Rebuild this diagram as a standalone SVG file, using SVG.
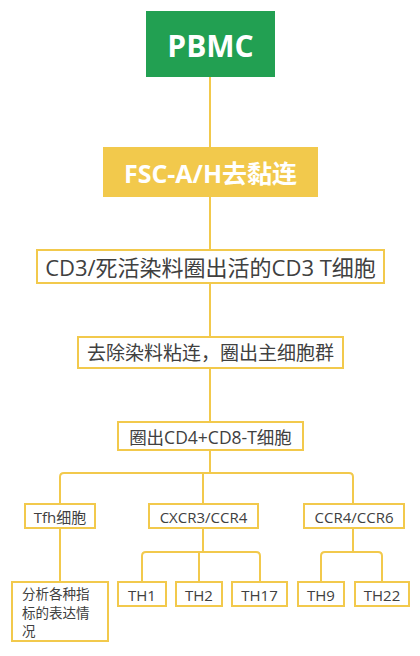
<svg xmlns="http://www.w3.org/2000/svg" width="420" height="656" viewBox="0 0 420 656">
<style>
.box{fill:#ffffff;stroke:#f2c94c;stroke-width:2}
.t{font-family:"Open Sans","Noto Sans CJK SC",sans-serif;fill:#404040;text-anchor:middle;dominant-baseline:central}
.l{font-family:"Open Sans","Noto Sans CJK SC",sans-serif;fill:#404040;text-anchor:start;dominant-baseline:central}
.w{font-family:"Open Sans","Noto Sans CJK SC",sans-serif;fill:#ffffff;font-weight:bold;text-anchor:middle;dominant-baseline:central}
.c{fill:none;stroke:#f2c94c;stroke-width:2}
</style>
<rect width="420" height="656" fill="#ffffff"/>
<g id="connectors">
<path class="c" d="M210 77V147M210 197V250M210 283V337M210 368V422"/>
<path class="c" d="M210 450V473M60 504V477Q60 473 64 473H349Q353 473 353 477V504M203 473V504"/>
<path class="c" d="M60 528V582"/>
<path class="c" d="M203 528V552M142 582V556Q142 552 146 552H256Q260 552 260 556V582M199 552V582"/>
<path class="c" d="M353 528V552M321 582V556Q321 552 325 552H378Q382 552 382 556V582"/>
</g>
<g id="pbmc"><rect x="146" y="11" width="129" height="66" fill="#22a052"/><text class="w" x="210.5" y="45" font-size="30">PBMC</text></g>
<g id="fsc"><rect x="103" y="147" width="215" height="50" fill="#f2c94c"/><text class="w" x="210.5" y="172.5" font-size="25">FSC-A/H去黏连</text></g>
<g id="cd3"><rect class="box" x="37" y="250" width="347" height="33"/><text class="t" x="210.5" y="267" font-size="22">CD3/死活染料圈出活的CD3 T细胞</text></g>
<g id="remove"><rect class="box" x="78" y="337" width="265" height="31"/><text class="t" x="210.5" y="353" font-size="19">去除染料粘连，圈出主细胞群</text></g>
<g id="cd4cd8"><rect class="box" x="118" y="422" width="185" height="28"/><text class="t" x="210.5" y="436.5" font-size="17.5">圈出CD4+CD8-T细胞</text></g>
<g id="tfh"><rect class="box" x="25" y="504" width="70" height="24"/><text class="t" x="60" y="516.5" font-size="15">Tfh细胞</text></g>
<g id="cxcr3"><rect class="box" x="149" y="504" width="109" height="24"/><text class="t" x="203.5" y="516.5" font-size="15">CXCR3/CCR4</text></g>
<g id="ccr4"><rect class="box" x="304" y="504" width="100" height="24"/><text class="t" x="354" y="516.5" font-size="15">CCR4/CCR6</text></g>
<g id="analysis"><rect class="box" x="12" y="582" width="96" height="59"/><text class="l" x="22" y="594" font-size="13.5">分析各种指</text><text class="l" x="22" y="613" font-size="13.5">标的表达情</text><text class="l" x="22" y="631" font-size="13.5">况</text></g>
<g id="th1"><rect class="box" x="118" y="582" width="48" height="24"/><text class="t" x="142" y="594.5" font-size="15">TH1</text></g>
<g id="th2"><rect class="box" x="176" y="582" width="46" height="24"/><text class="t" x="199" y="594.5" font-size="15">TH2</text></g>
<g id="th17"><rect class="box" x="232" y="582" width="55" height="24"/><text class="t" x="259.5" y="594.5" font-size="15">TH17</text></g>
<g id="th9"><rect class="box" x="298" y="582" width="46" height="24"/><text class="t" x="321" y="594.5" font-size="15">TH9</text></g>
<g id="th22"><rect class="box" x="355" y="582" width="54" height="24"/><text class="t" x="382" y="594.5" font-size="15">TH22</text></g>
</svg>
